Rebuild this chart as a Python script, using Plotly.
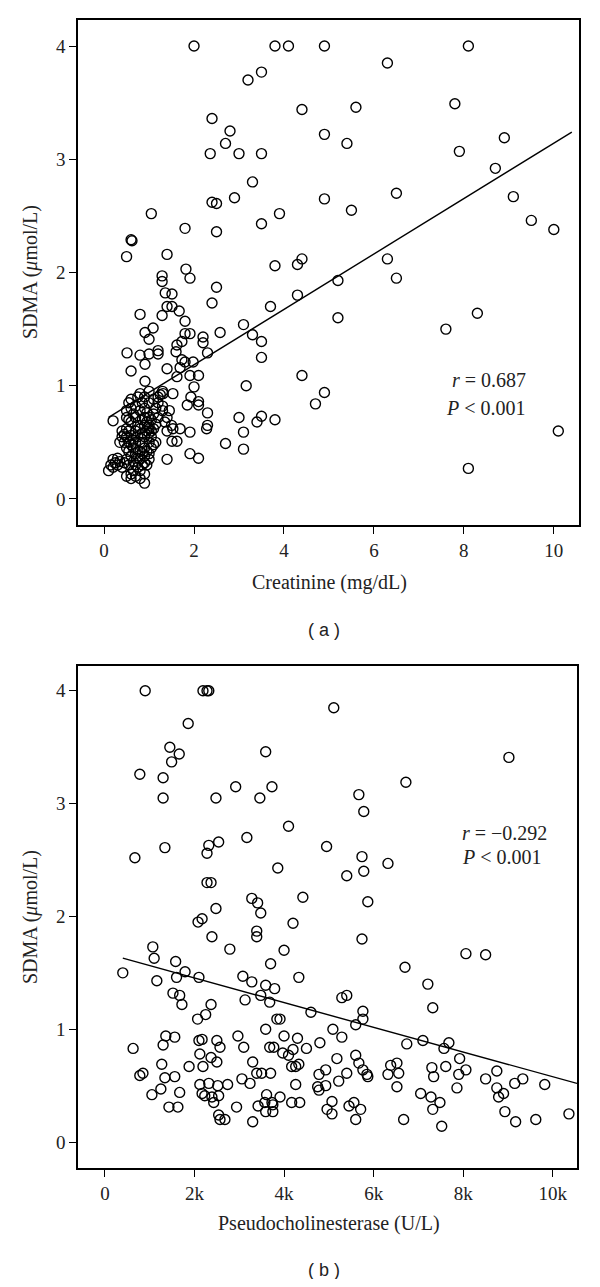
import plotly.graph_objects as go

# ---------------- Panel (a): Creatinine vs SDMA ----------------
points_a = [
    (2.0,4.0),(3.8,4.0),(4.1,4.0),(4.9,4.0),(8.1,4.0),
    (3.2,3.7),(3.5,3.77),(6.3,3.85),
    (2.4,3.36),(4.4,3.44),(5.6,3.46),(7.8,3.49),
    (2.8,3.25),(2.7,3.14),(5.4,3.14),(4.9,3.22),(8.9,3.19),
    (2.36,3.05),(3.0,3.05),(3.5,3.05),(7.9,3.07),
    (3.3,2.8),(8.7,2.92),
    (2.4,2.62),(2.5,2.61),(2.9,2.66),(4.9,2.65),(6.5,2.7),(9.1,2.67),
    (1.05,2.52),(3.9,2.52),(5.5,2.55),(9.5,2.46),
    (1.8,2.39),(2.5,2.36),(3.5,2.43),(10.0,2.38),
    (0.6,2.29),(0.62,2.28),(0.5,2.14),(1.4,2.16),
    (1.29,1.97),(1.29,1.92),(1.82,2.03),(1.91,1.95),(3.8,2.06),(4.3,2.07),(4.4,2.12),(6.3,2.12),
    (2.5,1.87),(5.2,1.93),(6.5,1.95),
    (1.36,1.82),(1.51,1.81),(4.3,1.8),
    (1.4,1.7),(1.51,1.7),(1.67,1.66),(2.4,1.73),(3.7,1.7),
    (1.29,1.62),(0.8,1.63),(1.8,1.57),(5.2,1.6),(7.6,1.5),(8.3,1.64),
    (1.09,1.51),(0.91,1.47),(1.0,1.41),(1.8,1.46),(1.91,1.46),(2.2,1.43),(2.2,1.38),(2.58,1.47),
    (3.1,1.54),(3.3,1.45),(3.5,1.39),(3.5,1.25),
    (1.62,1.36),(1.73,1.39),(1.6,1.3),(1.2,1.31),(1.2,1.28),(0.51,1.29),(0.8,1.27),(1.0,1.28),(2.3,1.29),
    (1.73,1.23),(1.8,1.21),(1.98,1.21),(1.69,1.16),(0.91,1.19),(1.4,1.15),(0.6,1.13),
    (1.62,1.08),(1.91,1.09),(2.1,1.09),(0.91,1.04),(3.16,1.0),(2.0,0.99),(4.4,1.09),
    (1.53,0.93),(1.31,0.93),(1.93,0.9),(2.1,0.86),(2.1,0.83),(1.85,0.83),(4.9,0.94),(4.7,0.84),
    (2.3,0.76),(3.0,0.72),(3.5,0.73),(3.4,0.68),(3.8,0.7),(0.2,0.69),
    (2.28,0.62),(2.3,0.65),(1.69,0.62),(1.53,0.62),(1.91,0.59),(3.1,0.59),
    (1.51,0.51),(1.62,0.51),(2.7,0.49),(3.1,0.44),(1.91,0.4),(2.1,0.36),(1.4,0.35),
    (10.1,0.6),(8.1,0.27),
    # dense cluster
    (0.1,0.25),(0.15,0.3),(0.2,0.28),(0.2,0.35),(0.25,0.32),(0.3,0.3),(0.3,0.36),(0.35,0.33),
    (0.4,0.28),(0.4,0.55),(0.45,0.5),(0.45,0.57),(0.5,0.2),(0.5,0.35),(0.5,0.45),(0.5,0.55),
    (0.5,0.62),(0.5,0.72),(0.5,0.78),(0.55,0.3),(0.55,0.42),(0.55,0.5),(0.55,0.6),(0.55,0.85),
    (0.6,0.18),(0.6,0.22),(0.6,0.38),(0.6,0.48),(0.6,0.56),(0.6,0.68),(0.6,0.88),(0.65,0.25),
    (0.65,0.33),(0.65,0.45),(0.65,0.52),(0.65,0.75),(0.7,0.2),(0.7,0.3),(0.7,0.4),(0.7,0.5),
    (0.7,0.6),(0.7,0.72),(0.7,0.82),(0.75,0.28),(0.75,0.36),(0.75,0.55),(0.75,0.65),(0.75,0.9),
    (0.8,0.18),(0.8,0.25),(0.8,0.35),(0.8,0.42),(0.8,0.5),(0.8,0.62),(0.8,0.78),(0.8,0.93),
    (0.85,0.3),(0.85,0.4),(0.85,0.58),(0.85,0.7),(0.85,0.85),(0.9,0.14),(0.9,0.22),(0.9,0.32),
    (0.9,0.38),(0.9,0.45),(0.9,0.55),(0.9,0.65),(0.9,0.72),(0.9,0.8),(0.9,0.9),(0.95,0.3),
    (0.95,0.42),(0.95,0.6),(0.95,0.68),(0.95,0.76),(1.0,0.35),(1.0,0.4),(1.0,0.5),(1.0,0.58),
    (1.0,0.62),(1.0,0.65),(1.0,0.72),(1.0,0.85),(1.0,0.95),(1.05,0.45),(1.05,0.55),(1.05,0.6),
    (1.05,0.7),(1.1,0.48),(1.1,0.62),(1.1,0.75),(1.1,0.88),(1.15,0.5),(1.15,0.66),(1.15,0.8),
    (1.2,0.72),(1.2,0.85),(1.2,0.9),(1.25,0.92),(1.3,0.78),(1.3,0.82),(1.3,0.95),(1.35,0.68),
    (1.4,0.72),(1.4,0.6),(1.45,0.78),(1.5,0.65),(0.45,0.32),(0.35,0.5),(0.4,0.6),(0.55,0.7),
    (0.6,0.8),(0.85,0.5),
]
creatinine = [p[0] for p in points_a]
sdma_a = [p[1] for p in points_a]
fit_a_x = [0.1, 10.4]
fit_a_y = [0.72, 3.24]

# ---------------- Panel (b): Pseudocholinesterase vs SDMA ----------------
points_b_k = [
    (0.9,4.0),(2.19,4.0),(2.28,4.0),(2.32,4.0),
    (1.86,3.71),(5.11,3.85),
    (1.45,3.5),(1.66,3.44),(1.49,3.37),(3.59,3.46),(9.02,3.41),
    (0.78,3.26),(1.3,3.23),(2.92,3.15),(3.73,3.15),(6.72,3.19),
    (1.3,3.05),(2.48,3.05),(3.46,3.05),(5.67,3.08),(5.78,2.93),
    (4.1,2.8),(3.17,2.7),(2.54,2.66),(2.32,2.63),(2.28,2.56),(1.34,2.61),(0.67,2.52),(4.95,2.62),(5.74,2.53),
    (3.86,2.43),(5.78,2.4),(5.4,2.36),(6.32,2.47),
    (2.28,2.3),(2.37,2.3),(3.28,2.16),(3.41,2.12),(3.48,2.03),(2.48,2.07),(4.42,2.17),(5.87,2.13),
    (2.08,1.95),(2.17,1.98),(4.2,1.94),(3.39,1.87),(3.39,1.82),(2.39,1.82),(5.74,1.8),
    (1.07,1.73),(2.79,1.71),(4.0,1.7),(1.1,1.63),(8.06,1.67),(8.5,1.66),
    (0.4,1.5),(1.58,1.6),(1.79,1.51),(1.16,1.43),(1.6,1.46),(2.1,1.46),(1.52,1.32),(1.67,1.3),
    (1.72,1.22),(2.37,1.22),(2.25,1.13),(2.07,1.09),
    (3.08,1.47),(3.28,1.42),(3.13,1.26),(3.59,1.39),(3.79,1.36),(3.48,1.3),(3.68,1.24),(3.7,1.58),
    (4.33,1.46),(3.84,1.09),(3.91,1.09),(3.59,1.0),(4.0,0.94),(4.3,0.92),
    (5.29,1.28),(5.4,1.3),(6.7,1.55),(7.21,1.4),(7.32,1.19),(4.6,1.15),(5.76,1.16),(5.76,1.09),
    (5.6,1.04),(5.09,1.0),(5.29,0.93),
    (1.36,0.94),(1.56,0.93),(1.3,0.86),(0.63,0.83),(2.1,0.9),(2.17,0.91),(2.5,0.9),(2.57,0.84),
    (2.12,0.78),(2.97,0.94),(3.1,0.84),(3.68,0.84),(3.77,0.84),(3.97,0.79),(4.1,0.77),(4.2,0.82),
    (4.5,0.83),(4.8,0.88),
    (2.37,0.75),(2.5,0.71),(3.3,0.71),(1.27,0.69),(1.88,0.67),(2.19,0.67),(4.17,0.67),(4.26,0.67),(4.33,0.69),
    (0.78,0.59),(0.85,0.61),(1.56,0.58),(1.34,0.57),(3.39,0.61),(3.5,0.61),(3.7,0.61),(3.06,0.56),
    (3.24,0.52),(2.32,0.52),(2.12,0.51),(2.52,0.5),(2.74,0.51),(4.26,0.51),
    (1.25,0.47),(1.67,0.44),(2.17,0.43),(1.05,0.42),(2.23,0.41),(2.39,0.4),(2.54,0.41),(3.61,0.42),(3.91,0.4),
    (2.43,0.35),(3.57,0.35),(3.73,0.35),(4.17,0.35),(4.35,0.35),(1.43,0.31),(1.63,0.31),(2.94,0.31),
    (3.42,0.32),(3.75,0.33),(3.59,0.27),(3.75,0.27),(2.54,0.24),(2.57,0.2),(2.68,0.2),(3.3,0.18),
    (5.18,0.74),(5.6,0.77),(5.67,0.7),(5.76,0.64),(5.85,0.6),(5.87,0.58),(5.4,0.61),(4.93,0.64),
    (4.78,0.6),(4.75,0.49),(4.78,0.46),(4.93,0.5),(5.22,0.54),(5.07,0.36),(4.96,0.29),(5.07,0.25),
    (5.45,0.32),(5.56,0.35),(5.71,0.29),(5.6,0.2),
    (6.32,0.6),(6.38,0.68),(6.52,0.7),(6.56,0.61),(6.52,0.49),(6.74,0.87),(7.1,0.9),(6.67,0.2),
    (7.05,0.43),(7.3,0.66),(7.34,0.58),(7.28,0.4),(7.32,0.29),(7.48,0.35),(7.52,0.14),(7.57,0.83),
    (7.68,0.88),(7.61,0.67),
    (7.92,0.74),(8.06,0.64),(7.9,0.6),(7.86,0.48),(8.5,0.56),(8.75,0.63),(8.75,0.48),(8.79,0.4),
    (8.9,0.43),(8.93,0.27),(9.15,0.52),(9.33,0.56),(9.17,0.18),(9.62,0.2),(9.82,0.51),(10.36,0.25),
]
pche = [p[0] * 1000 for p in points_b_k]
sdma_b = [p[1] for p in points_b_k]
fit_b_x = [400, 10540]
fit_b_y = [1.63, 0.52]

x_ticks_a = [0, 2, 4, 6, 8, 10]
x_ticks_b = [0, 2000, 4000, 6000, 8000, 10000]
x_ticktext_b = ["0", "2k", "4k", "6k", "8k", "10k"]
y_ticks = [0, 1, 2, 3, 4]

SERIF = "Liberation Serif, DejaVu Serif, serif"
TXT = "#222"
marker = dict(symbol="circle-open", size=10, color="black", line=dict(width=1.4, color="black"))

fig = go.Figure()
fig.add_trace(go.Scatter(x=creatinine, y=sdma_a, mode="markers", marker=marker,
                         xaxis="x", yaxis="y", showlegend=False))
fig.add_trace(go.Scatter(x=fit_a_x, y=fit_a_y, mode="lines", line=dict(color="black", width=1.4),
                         xaxis="x", yaxis="y", showlegend=False))
fig.add_trace(go.Scatter(x=pche, y=sdma_b, mode="markers", marker=marker,
                         xaxis="x2", yaxis="y2", showlegend=False))
fig.add_trace(go.Scatter(x=fit_b_x, y=fit_b_y, mode="lines", line=dict(color="black", width=1.4),
                         xaxis="x2", yaxis="y2", showlegend=False))

# The page body has an 8px margin; figure is offset by that amount.
OFF = 8.0
W = 584.0
H = 1271.0
def px_x(p):
    return (p - OFF) / W
def px_y(p):
    return 1 - (p - OFF) / H

axis_common = dict(showline=True, mirror=True, linecolor="black", linewidth=1.5,
                   ticks="outside", ticklen=7, tickwidth=1.3, tickcolor="black",
                   showgrid=False, zeroline=False, automargin=False,
                   tickfont=dict(family=SERIF, size=19, color=TXT))

fig.update_layout(
    width=int(W), height=int(H),
    margin=dict(l=0, r=0, t=0, b=0, autoexpand=False),
    paper_bgcolor="white", plot_bgcolor="white",
    xaxis=dict(domain=[px_x(78), px_x(579)], range=[-0.58, 10.56], tickvals=x_ticks_a,
               anchor="y", **axis_common),
    yaxis=dict(domain=[px_y(525), px_y(20)], range=[-0.23, 4.23], tickvals=y_ticks,
               anchor="x", **axis_common),
    xaxis2=dict(domain=[px_x(78), px_x(577)], range=[-600, 10540], tickvals=x_ticks_b, ticktext=x_ticktext_b,
                anchor="y2", **axis_common),
    yaxis2=dict(domain=[px_y(1168), px_y(666)], range=[-0.23, 4.22], tickvals=y_ticks,
                anchor="x2", **axis_common),
)

title_font = dict(family=SERIF, size=20, color=TXT)
def ann(x, y, text, font, xanchor="center", textangle=0):
    fig.add_annotation(xref="paper", yref="paper", x=px_x(x), y=px_y(y), xanchor=xanchor,
                       yanchor="middle", text=text, showarrow=False, font=font, textangle=textangle)

# axis titles
ann(329, 582, "Creatinine (mg/dL)", title_font)
ann(329, 1223, "Pseudocholinesterase (U/L)", title_font)
ann(30, 272, "SDMA (<i>μ</i>mol/L)", title_font, textangle=-90)
ann(30, 917, "SDMA (<i>μ</i>mol/L)", title_font, textangle=-90)

# statistics
ann(528, 380, "<i>r</i> = 0.687", title_font, xanchor="right")
ann(528, 408, "<i>P</i> < 0.001", title_font, xanchor="right")
ann(460, 833, "<i>r</i> = −0.292", title_font, xanchor="left")
ann(460, 857, "<i>P</i> < 0.001", title_font, xanchor="left")

# panel labels
lab_font = dict(family="Liberation Sans, Arial, sans-serif", size=18, color=TXT)
ann(324, 630, "( a )", lab_font)
ann(324, 1270, "( b )", lab_font)

fig.write_html("out.html")
